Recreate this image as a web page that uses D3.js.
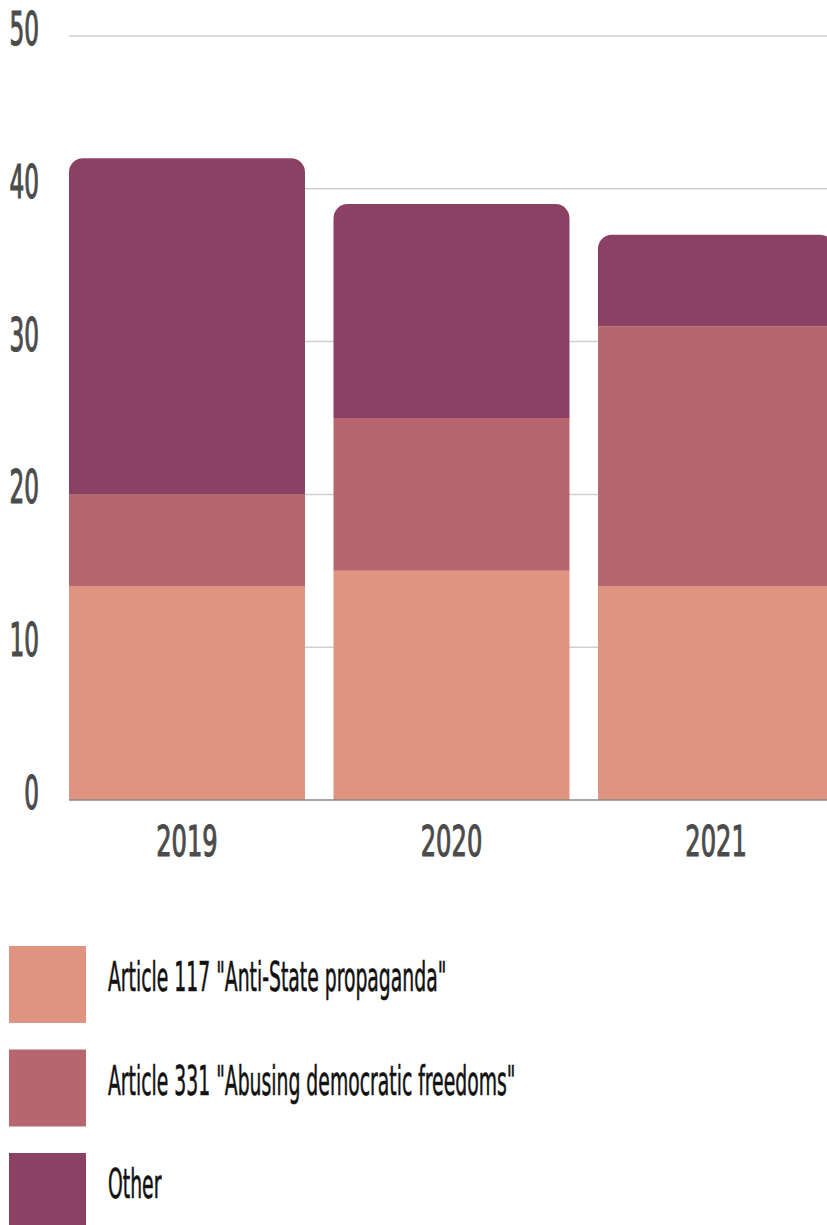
<!DOCTYPE html>
<html>
<head>
<meta charset="utf-8">
<script src="https://cdn.jsdelivr.net/npm/d3@7"></script>
<style>
  body { margin: 0; background: #fff; }
  svg { display: block; }
  text { font-family: "DejaVu Sans Condensed", "Liberation Sans Narrow", sans-serif; }
</style>
</head>
<body>
<div id="chart"></div>
<script>
// data
var years = ["2019", "2020", "2021"];
var article117 = [14, 15, 14];
var article331 = [6, 10, 17];
var other = [22, 14, 6];
var seriesKeys = ["a117", "a331", "other"];
var seriesLabels = ['Article 117 "Anti-State propaganda"', 'Article 331 "Abusing democratic freedoms"', "Other"];
var seriesColors = ["#df9481", "#b8666e", "#8b4163"];
var yTicks = [0, 10, 20, 30, 40, 50];

var width = 827, height = 1225;
var plot = { left: 69, top: 36, bottom: 800 };

var rows = years.map(function(y, i) {
  return { year: y, a117: article117[i], a331: article331[i], other: other[i] };
});

var svg = d3.select("#chart").append("svg")
  .attr("width", width)
  .attr("height", height);

var x = d3.scaleBand()
  .domain(years)
  .range([plot.left, 834])
  .paddingInner(0.1078)
  .paddingOuter(0);

var y = d3.scaleLinear()
  .domain([0, 50])
  .range([plot.bottom, plot.top]);

var color = d3.scaleOrdinal().domain(seriesKeys).range(seriesColors);

// gridlines
svg.append("g").selectAll("line")
  .data(yTicks.filter(function(d) { return d > 0; }))
  .enter().append("line")
  .attr("x1", plot.left).attr("x2", width)
  .attr("y1", function(d) { return y(d); })
  .attr("y2", function(d) { return y(d); })
  .attr("stroke", "#cfcfcf")
  .attr("stroke-width", 1.5);

// y labels (squeezed horizontally for the condensed look)
svg.append("g").selectAll("text")
  .data(yTicks)
  .enter().append("text")
  .attr("transform", function(d) { return "translate(39," + (y(d) + 9) + ") scale(0.56,1)"; })
  .attr("text-anchor", "end")
  .attr("font-size", 46)
  .attr("fill", "#4b4b4b")
  .attr("stroke", "#4b4b4b")
  .attr("stroke-width", 1.2)
  .text(function(d) { return d; });

// stacked bars
var stacked = d3.stack().keys(seriesKeys)(rows);
var r = 14;

function barPath(x0, w, yTop, yBot, rounded) {
  var p = d3.path();
  if (rounded) {
    p.moveTo(x0, yBot);
    p.lineTo(x0, yTop + r);
    p.arcTo(x0, yTop, x0 + r, yTop, r);
    p.lineTo(x0 + w - r, yTop);
    p.arcTo(x0 + w, yTop, x0 + w, yTop + r, r);
    p.lineTo(x0 + w, yBot);
    p.closePath();
  } else {
    p.rect(x0, yTop, w, yBot - yTop);
  }
  return p.toString();
}

svg.append("g").selectAll("g")
  .data(stacked)
  .enter().append("g")
  .attr("fill", function(d) { return color(d.key); })
  .each(function(layer, li) {
    d3.select(this).selectAll("path")
      .data(layer)
      .enter().append("path")
      .attr("d", function(d) {
        return barPath(x(d.data.year), x.bandwidth(), y(d[1]), y(d[0]), li === stacked.length - 1);
      });
  });

// baseline
svg.append("line")
  .attr("x1", plot.left).attr("x2", width)
  .attr("y1", y(0)).attr("y2", y(0))
  .attr("stroke", "#888")
  .attr("stroke-width", 1.5);

// x labels
svg.append("g").selectAll("text")
  .data(years)
  .enter().append("text")
  .attr("transform", function(d) { return "translate(" + (x(d) + x.bandwidth() / 2) + ",856) scale(0.64,1)"; })
  .attr("text-anchor", "middle")
  .attr("font-size", 42)
  .attr("fill", "#4b4b4b")
  .attr("stroke", "#4b4b4b")
  .attr("stroke-width", 1.1)
  .text(function(d) { return d; });

// legend
var legend = svg.append("g").selectAll("g")
  .data(seriesKeys)
  .enter().append("g")
  .attr("transform", function(d, i) { return "translate(0," + (946 + i * 103.5) + ")"; });

legend.append("rect")
  .attr("x", 9).attr("y", 0)
  .attr("width", 77).attr("height", 77)
  .attr("fill", function(d) { return color(d); });

legend.append("text")
  .attr("transform", "translate(108,45) scale(0.51,1)")
  .attr("font-size", 41)
  .attr("fill", "#111")
  .attr("stroke", "#111")
  .attr("stroke-width", 0.6)
  .text(function(d, i) { return seriesLabels[i]; });
</script>
</body>
</html>
